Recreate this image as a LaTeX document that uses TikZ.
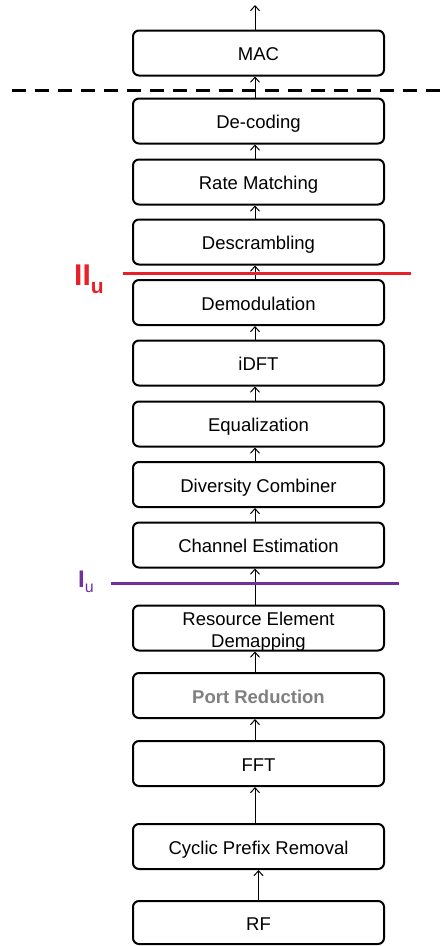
\documentclass[tikz,border=0pt]{standalone}
\usepackage{fontspec}
\setmainfont{Liberation Sans}
\usetikzlibrary{arrows.meta,calc}
\definecolor{redline}{RGB}{232,32,42}
\definecolor{purpleline}{RGB}{112,48,160}
\definecolor{graytext}{RGB}{128,128,128}
\begin{document}
\begin{tikzpicture}[x=1pt,y=-1pt,
  blockbase/.style={draw=black,line width=2pt,rounded corners=6pt,minimum width=251pt,minimum height=45pt,inner sep=0pt,align=center,font=\fontsize{18.5}{22}\selectfont},
  blockbox/.style={blockbase,text height=16pt,text depth=1pt},
  arr/.style={-{Straight Barb[length=5pt,width=9pt]},line width=1pt}]
\useasboundingbox (0,0) rectangle (447,946);
\node[blockbox] (mac) at (258.5,53) {MAC};
\node[blockbox] (dec) at (258.5,121) {De-coding};
\node[blockbox] (rate) at (258.5,182) {Rate Matching};
\node[blockbox] (desc) at (258.5,242) {Descrambling};
\node[blockbox] (demod) at (258.5,302.5) {Demodulation};
\node[blockbox] (idft) at (258.5,363) {iDFT};
\node[blockbox] (eq) at (258.5,424) {Equalization};
\node[blockbox] (div) at (258.5,484.5) {Diversity Combiner};
\node[blockbox] (ch) at (258.5,545) {Channel Estimation};
\node[blockbase,label={[yshift=-3.5pt,align=center,font=\fontsize{18.5}{22}\selectfont,inner sep=0pt]center:Resource Element\\Demapping}] (re) at (258.5,628) {};
\node[blockbox,text=graytext,font=\fontsize{18.5}{22}\selectfont\bfseries] (port) at (258.5,695.5) {Port Reduction};
\node[blockbox] (fft) at (258.5,763.5) {FFT};
\node[blockbox] (cpr) at (258.5,846.5) {Cyclic Prefix Removal};
\node[blockbox,minimum height=43pt] (rf) at (258.5,922.5) {RF};
\coordinate (out) at (255,5);
% arrows
\draw[arr] ([xshift=-3.5pt]mac.north) -- (out);
\foreach \a/\b in {dec/mac,rate/dec,desc/rate,demod/desc,idft/demod,eq/idft,div/eq,ch/div,re/ch,port/re,fft/port,cpr/fft}
  \draw[arr] ([xshift=-3.5pt]\a.north) -- ([xshift=-3.5pt]\b.south);
\draw[arr] (rf.north) -- (cpr.south);
% split lines
\coordinate (dl) at (12,90);
\coordinate (dr) at (447,90);
\draw[line width=3pt,dash pattern=on 14pt off 9pt] (dl) -- (dr);
\coordinate (rl) at (123,273);
\coordinate (rr) at (411,273);
\draw[redline,line width=3pt] (rl) -- (rr);
\coordinate (pl) at (111,583);
\coordinate (pr) at (399,583);
\draw[purpleline,line width=3pt] (pl) -- (pr);
% labels
\node[anchor=base west,inner sep=0pt,text=redline] (iiu) at (74,285) {\fontsize{30}{30}\selectfont\bfseries II\raisebox{-8pt}{\fontsize{21}{21}\selectfont u}};
\node[anchor=base west,inner sep=0pt,text=purpleline] (iu) at (78,587) {\fontsize{24}{24}\selectfont\bfseries I\raisebox{-5pt}{\fontsize{16}{16}\selectfont\mdseries u}};
\end{tikzpicture}
\end{document}
